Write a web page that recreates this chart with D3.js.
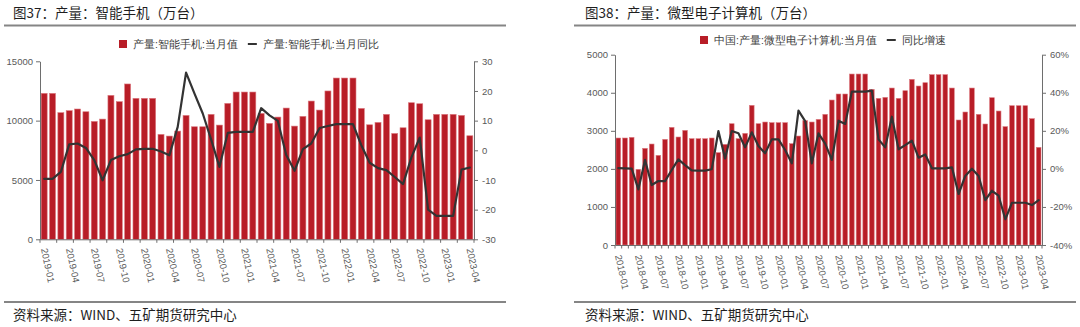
<!DOCTYPE html>
<html>
<head>
<meta charset="utf-8">
<script src="https://cdn.jsdelivr.net/npm/d3@7"></script>
<style>
  body { margin: 0; background: #fff; }
  svg { display: block; }
  text { font-family: "Liberation Sans", Arial, sans-serif; }
  .cjk { font-family: "Noto Sans CJK SC", "Noto Sans", sans-serif; }
</style>
</head>
<body>
<svg id="chart" width="1080" height="327"></svg>
<script>
// ---- 智能手机：当月产量（万台）与当月同比（%） ----
const phoneStart = "2019-01";
const phoneEnd = "2023-04";
const phoneOutput = [
  12300, 12300, 10670, 10840, 10980, 10750, 9935, 10130, 12130, 11600, 13090, 11880,
  11880, 11880, 8840, 8700, 9120, 10440, 9485, 9485, 10530, 9625, 11455, 12410,
  12410, 12410, 10610, 9770, 10300, 11060, 9540, 10360, 11650, 10890, 12500, 13590,
  13590, 13590, 11030, 9650, 9850, 10530, 8920, 9400, 11510, 11425, 10075, 10530,
  10530, 10530, 10440, 8725
];
const phoneYoY = [
  -9.6, -9.6, -7.3, 2.0, 2.3, 0.8, -3.3, -10.1, -3.3, -2.0, -1.3, 0.3,
  0.5, 0.5, -0.4, -1.7, 7.9, 26.2, 19.2, 12.4, 3.7, -5.6, 5.9, 6.2,
  6.2, 6.2, 14.2, 11.8, 9.9, -1.6, -6.9, 0.4, 2.3, 7.5, 8.2, 8.8,
  8.8, 8.8, 1.7, -4.2, -6.0, -6.7, -9.0, -11.4, -2.4, 4.3, -20.0, -22.1,
  -22.1, -22.1, -6.5, -5.8
];
const phoneLeftTicks = [0, 5000, 10000, 15000];
const phoneRightTicks = [-30, -20, -10, 0, 10, 20, 30];

// ---- 微型电子计算机：当月产量（万台）与同比增速（%） ----
const pcStart = "2018-01";
const pcEnd = "2023-04";
const pcOutput = [
  2811, 2811, 2828, 1988, 2540, 2653, 2355, 2776, 3091, 2837, 3012, 2793,
  2793, 2793, 2811, 2426, 2644, 3187, 2793, 2933, 3669, 3187, 3231, 3214,
  3214, 3214, 2662, 2863, 3266, 3231, 3301, 3433, 3809, 3967, 3967, 4492,
  4492, 4492, 4089, 3853, 3879, 4124, 3853, 4054, 4352, 4177, 4264, 4475,
  4475, 4475, 4124, 3284, 3494, 4124, 3433, 3179, 3870, 3520, 3109, 3660,
  3660, 3660, 3319, 2566
];
const pcYoY = [
  0.4, 0.3, 0.1, -10.8, 4.7, -8.5, -6.4, -6.4, -0.6, 5.0, 2.0, -0.8,
  -0.9, -0.9, -0.2, 19.9, 5.5, 19.9, 18.7, 11.3, 19.2, 12.0, 8.2, 15.5,
  15.5, 9.9, 2.9, 30.6, 25.1, 2.9, 18.7, 13.3, 4.7, 25.3, 23.6, 40.6,
  40.6, 40.6, 41.1, 15.5, 11.3, 27.4, 10.3, 12.5, 14.8, 5.9, 7.6, 0.3,
  0.3, 0.3, 0.8, -13.2, -3.7, 0.1, -3.7, -16.4, -11.5, -14.1, -26.5, -17.8,
  -17.8, -17.8, -19.0, -16.4
];
const pcLeftTicks = [0, 1000, 2000, 3000, 4000, 5000];
const pcRightTicks = [-40, -20, 0, 20, 40, 60];

const SOURCE_TEXT = "资料来源：WIND、五矿期货研究中心";

const parseMonth = d3.timeParse("%Y-%m");
const fmtMonth = d3.timeFormat("%Y-%m");
function monthRange(a, b) {
  return d3.timeMonth
    .range(parseMonth(a), d3.timeMonth.offset(parseMonth(b), 1))
    .map(fmtMonth);
}

const svg = d3.select("#chart");
const BAR_FILL = "#b81d27";
const BAR_EDGE = "#dc7a80";
const LINE_COLOR = "#333333";
const AXIS_COLOR = "#6e6e6e";
const TICK_TEXT = "#595959";
const RULE_COLOR = "#858585";

// plain integers with an ASCII minus sign
const intFmt = d => String(Math.round(d));

function styleAxis(sel) {
  sel.select(".domain").attr("stroke", AXIS_COLOR).attr("stroke-width", 1);
  sel.selectAll(".tick line").attr("stroke", AXIS_COLOR);
  sel.selectAll(".tick text")
    .attr("fill", TICK_TEXT)
    .attr("font-size", 9.5);
}

function drawPanel(cfg) {
  const g = svg.append("g");
  const months = monthRange(cfg.start, cfg.end);

  const x = d3.scaleBand()
    .domain(months)
    .range([cfg.x0, cfg.x1])
    .paddingInner(cfg.pad)
    .paddingOuter(cfg.pad / 2);
  const yL = d3.scaleLinear().domain(cfg.leftDomain).range([cfg.yBot, cfg.yTop]);
  const yR = d3.scaleLinear().domain(cfg.rightDomain).range([cfg.yBot, cfg.yTop]);

  // heading, rules and source note
  g.append("text")
    .attr("class", "cjk")
    .attr("x", cfg.titleX)
    .attr("y", 18)
    .attr("font-size", 13.5)
    .attr("fill", "#1e1e1e")
    .text(cfg.title);
  g.append("line")
    .attr("x1", cfg.ruleX0).attr("x2", cfg.ruleX1)
    .attr("y1", 25.5).attr("y2", 25.5)
    .attr("stroke", RULE_COLOR).attr("stroke-width", 2);
  g.append("line")
    .attr("x1", cfg.ruleX0).attr("x2", cfg.ruleX1)
    .attr("y1", 302).attr("y2", 302)
    .attr("stroke", RULE_COLOR).attr("stroke-width", 2);
  g.append("text")
    .attr("class", "cjk")
    .attr("x", cfg.titleX)
    .attr("y", 320)
    .attr("font-size", 13.5)
    .attr("fill", "#1e1e1e")
    .text(SOURCE_TEXT);

  // legend
  const lg = g.append("g").attr("class", "cjk");
  lg.append("rect")
    .attr("x", cfg.legendX).attr("y", cfg.legendY - 8)
    .attr("width", 8).attr("height", 8)
    .attr("fill", BAR_FILL);
  const t1 = lg.append("text")
    .attr("x", cfg.legendX + 14).attr("y", cfg.legendY)
    .attr("font-size", 10.5).attr("fill", "#404040")
    .text(cfg.barName);
  const t1End = cfg.legendX + 14 + t1.node().getComputedTextLength();
  lg.append("line")
    .attr("x1", t1End + 10).attr("x2", t1End + 19)
    .attr("y1", cfg.legendY - 4).attr("y2", cfg.legendY - 4)
    .attr("stroke", LINE_COLOR).attr("stroke-width", 2);
  lg.append("text")
    .attr("x", t1End + 25).attr("y", cfg.legendY)
    .attr("font-size", 10.5).attr("fill", "#404040")
    .text(cfg.lineName);

  // bars: monthly output
  g.append("g")
    .selectAll("rect")
    .data(cfg.bars)
    .join("rect")
    .attr("x", (d, i) => x(months[i]))
    .attr("y", d => yL(d))
    .attr("width", x.bandwidth())
    .attr("height", d => yL(0) - yL(d))
    .attr("fill", BAR_FILL)
    .attr("stroke", BAR_EDGE)
    .attr("stroke-width", 0.6);

  // line: year-on-year change
  const line = d3.line()
    .x((d, i) => x(months[i]) + x.bandwidth() / 2)
    .y(d => yR(d))
    .curve(d3.curveLinear);
  g.append("path")
    .datum(cfg.yoy)
    .attr("d", line)
    .attr("fill", "none")
    .attr("stroke", LINE_COLOR)
    .attr("stroke-width", 2.2)
    .attr("stroke-linejoin", "round")
    .attr("stroke-linecap", "round");

  // left axis
  const axL = g.append("g")
    .attr("transform", `translate(${cfg.x0},0)`)
    .call(d3.axisLeft(yL).tickValues(cfg.leftTicks).tickSize(4).tickSizeOuter(0).tickPadding(3)
      .tickFormat(intFmt));
  styleAxis(axL);

  // right axis
  const axR = g.append("g")
    .attr("transform", `translate(${cfg.x1},0)`)
    .call(d3.axisRight(yR).tickValues(cfg.rightTicks).tickSize(4).tickSizeOuter(0).tickPadding(4)
      .tickFormat(cfg.rightFormat));
  styleAxis(axR);

  // bottom axis: labels every third month, rotated
  const labelMonths = months.filter((m, i) => i % 3 === 0);
  const axB = g.append("g")
    .attr("transform", `translate(0,${cfg.yBot})`)
    .call(d3.axisBottom(x).tickValues(labelMonths).tickSize(0).tickSizeOuter(0));
  styleAxis(axB);
  axB.selectAll(".tick text")
    .attr("x", 0).attr("y", 0).attr("dy", "0.35em")
    .attr("text-anchor", "start")
    .attr("font-size", 9.5)
    .attr("transform", `translate(0,${cfg.labelOffset}) rotate(78)`);

  // bottom axis minor ticks on band boundaries
  const step = x.step();
  const tickIdx = d3.range(0, months.length + 1, cfg.minorEvery);
  g.append("g")
    .selectAll("line")
    .data(tickIdx)
    .join("line")
    .attr("x1", k => cfg.x0 + k * step)
    .attr("x2", k => cfg.x0 + k * step)
    .attr("y1", cfg.yBot)
    .attr("y2", cfg.yBot + 3.5)
    .attr("stroke", AXIS_COLOR);
}

drawPanel({
  start: phoneStart, end: phoneEnd,
  bars: phoneOutput, yoy: phoneYoY,
  x0: 40, x1: 474, yTop: 61.3, yBot: 239.3,
  pad: 0.28,
  leftDomain: [0, 15000], rightDomain: [-30, 30],
  leftTicks: phoneLeftTicks, rightTicks: phoneRightTicks,
  rightFormat: intFmt,
  title: "图37：产量：智能手机（万台）",
  titleX: 13, ruleX0: 4, ruleX1: 506,
  legendX: 119, legendY: 48,
  barName: "产量:智能手机:当月值",
  lineName: "产量:智能手机:当月同比",
  labelOffset: 9, minorEvery: 2
});

drawPanel({
  start: pcStart, end: pcEnd,
  bars: pcOutput, yoy: pcYoY,
  x0: 615, x1: 1042, yTop: 54.7, yBot: 245,
  pad: 0.3,
  leftDomain: [0, 5000], rightDomain: [-40, 60],
  leftTicks: pcLeftTicks, rightTicks: pcRightTicks,
  rightFormat: d => intFmt(d) + "%",
  title: "图38：产量：微型电子计算机（万台）",
  titleX: 585, ruleX0: 574, ruleX1: 1076,
  legendX: 700, legendY: 44,
  barName: "中国:产量:微型电子计算机:当月值",
  lineName: "同比增速",
  labelOffset: 10, minorEvery: 1
});
</script>
</body>
</html>
